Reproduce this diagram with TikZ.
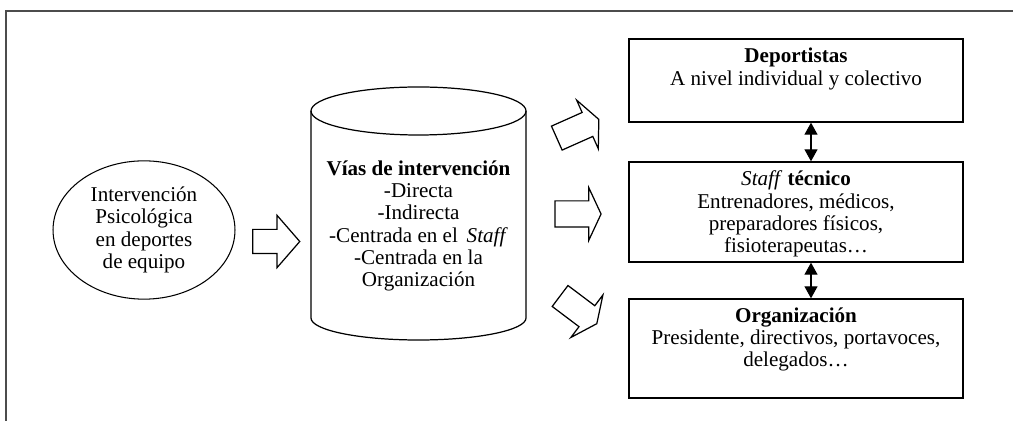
\documentclass[tikz,border=0pt]{standalone}
\usepackage{fontspec}
\setmainfont{Liberation Serif}
\usetikzlibrary{shapes.geometric,shapes.arrows,arrows.meta}

\begin{document}
\begin{tikzpicture}[x=0.02cm,y=-0.02cm,font=\fontsize{12}{12.7}\selectfont]
    \tikzstyle{box}=[draw,line width=0.8pt,minimum width=6.68cm]
    \tikzstyle{boxtext}=[align=center]
    \tikzstyle{blockarrow}=[draw,line width=0.7pt,single arrow,inner xsep=0pt,inner ysep=0.25cm,minimum height=0.92cm,single arrow head extend=0.27cm,single arrow tip angle=130]
    \tikzstyle{dblarrow}=[{Triangle[width=0.26cm,length=0.24cm]}-{Triangle[width=0.26cm,length=0.24cm]},line width=0.7pt]
    \useasboundingbox (0,0) rectangle (1013,421);
    % frame
    \draw[black!70,line width=0.9pt] (6,421) -- (6,11) -- (1013,11);
    % starting point
    \node[ellipse,draw,line width=0.6pt,minimum width=3.64cm,minimum height=2.72cm,align=center] (intervencion) at (144,230) {Intervención\\Psicológica\\en deportes\\de equipo};
    \node[blockarrow,minimum height=0.94cm,inner ysep=0.23cm,single arrow head extend=0.28cm,single arrow tip angle=98] (arrow_in) at (271,241.5) {};
    % cylinder
    \draw[line width=0.7pt] (311,111) -- (311,318) arc[start angle=180,end angle=0,x radius=107.5,y radius=22] -- (526,111);
    \draw[line width=0.7pt] (418.5,111) ellipse[x radius=107.5,y radius=24];
    \node[align=center] (vias) at (418.5,226) {\textbf{Vías de intervención}\\-Directa\\-Indirecta\\-Centrada en el\, \textit{Staff}\\-Centrada en la\\Organización};
    % arrows to the three levels
    \node[blockarrow,rotate=24] (arrow_up) at (575,130) {};
    \node[blockarrow] (arrow_mid) at (575,214) {};
    \node[blockarrow,rotate=-37] (arrow_down) at (576,308) {};
    % levels
    \node[box,minimum height=1.66cm] (deportistas) at (796,80.5) {};
    \node[boxtext] (deportistas_text) at (796,69) {\textbf{Deportistas}\\A nivel individual y colectivo};
    \node[box,minimum height=2cm] (staff) at (796,212) {};
    \node[boxtext] (staff_text) at (796,214) {\textit{Staff} \textbf{técnico}\\Entrenadores, médicos,\\preparadores físicos,\\fisioterapeutas…};
    \node[box,minimum height=1.98cm] (organizacion) at (796,348.5) {};
    \node[boxtext] (organizacion_text) at (796,339.5) {\textbf{Organización}\\Presidente, directivos, portavoces,\\delegados…};
    % links between levels
    \draw[dblarrow] ([xshift=0.3cm]deportistas.south) -- ([xshift=0.3cm]staff.north);
    \draw[dblarrow] ([xshift=0.3cm]staff.south) -- ([xshift=0.3cm]organizacion.north);
\end{tikzpicture}
\end{document}
